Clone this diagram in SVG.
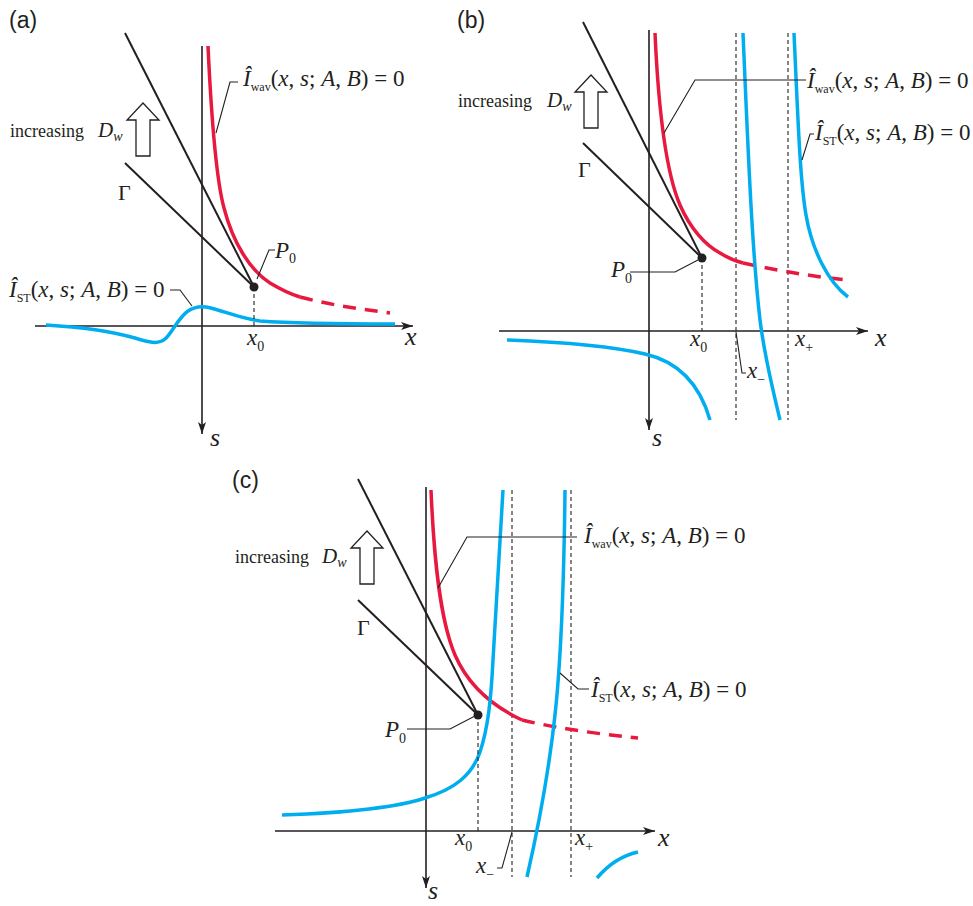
<svg xmlns="http://www.w3.org/2000/svg" width="973" height="906" viewBox="0 0 973 906">
<style>
.ax{stroke:#231f20;stroke-width:1.6;fill:none}
.ln{stroke:#231f20;stroke-width:2;fill:none}
.ld{stroke:#231f20;stroke-width:1.1;fill:none}
.dv{stroke:#231f20;stroke-width:1.1;fill:none;stroke-dasharray:4 3}
.red{stroke:#e8193f;stroke-width:3.5;fill:none}
.redd{stroke:#e8193f;stroke-width:3.5;fill:none;stroke-dasharray:13 9}
.blu{stroke:#00aeef;stroke-width:3.5;fill:none}
.hol{stroke:#231f20;stroke-width:1.3;fill:#fff}
text{font-family:"Liberation Serif","Times New Roman",serif;fill:#231f20}
.lab{font-size:23px}
.i{font-style:italic}
.sub{font-size:12px;font-style:normal}
.axl{font-size:26px;font-style:italic}
.pl{font-family:"Liberation Sans",Arial,sans-serif;font-size:23px}
.inc{font-size:18px}
.dw{font-size:21px;font-style:italic}
.gam{font-size:22px}
.vl{font-size:23px;font-style:italic}
.vs{font-size:14px;font-style:normal}
</style>
<defs>
<marker id="ah" viewBox="0 0 12 8" refX="12" refY="4" markerWidth="12" markerHeight="8" markerUnits="userSpaceOnUse" orient="auto">
<path d="M0,0 L12,4 L0,8 L3,4 Z" fill="#231f20"/>
</marker>
<path id="harrow" d="M0,0 L16,17 L7,17 L7,53 L-7,53 L-7,17 L-16,17 Z"/>
</defs>

<!-- Panel (a) -->
<g id="panel-a">
<text class="pl" x="9" y="28">(a)</text>
<g id="a-axes">
<path class="ax" d="M35,326 L413,326" marker-end="url(#ah)"/>
<path class="ax" d="M202,46 L202,434" marker-end="url(#ah)"/>
<text class="axl" x="405" y="345">x</text>
<text class="axl" x="210" y="446">s</text>
</g>
<g id="a-curves">
<path class="red" d="M208,46 C211,110 215,175 224,208 C233,243 250,270 270,283 C280,289 290,294 300,297"/>
<path class="redd" d="M300,297 C330,305 360,309 390,313"/>
<path class="blu" d="M46,325 C80,327 110,331 135,338 C148,342 158,345 165,339 C172,333 178,318 188,311 C194,307 200,306 206,307 C222,310 238,318 260,321 C300,324 350,324 395,324"/>
<path class="ln" d="M125,33 L254,287"/>
<path class="ln" d="M125,163 L254,287"/>
<path class="dv" d="M254,287 L254,326"/>
<circle cx="254" cy="287" r="4.5" fill="#231f20"/>
</g>
<g id="a-labels">
<use href="#harrow" class="hol" x="143" y="103"/>
<text class="inc" x="10" y="137">increasing</text>
<text class="dw" x="98" y="137">D<tspan font-size="14" dy="4">w</tspan></text>
<text class="gam" x="118" y="200">Γ</text>
<path class="ld" d="M216,133 L230,82 L238,82"/>
<text class="lab" x="243" y="86"><tspan class="i">Î</tspan><tspan class="sub" dy="5">wav</tspan><tspan dy="-5">(</tspan><tspan class="i">x</tspan>, <tspan class="i">s</tspan>; <tspan class="i">A</tspan>, <tspan class="i">B</tspan>) = 0</text>
<path class="ld" d="M170,290 L180,290 L192,306"/>
<text class="lab" x="9" y="297"><tspan class="i">Î</tspan><tspan class="sub" font-size="11" dy="5">ST</tspan><tspan dy="-5">(</tspan><tspan class="i">x</tspan>, <tspan class="i">s</tspan>; <tspan class="i">A</tspan>, <tspan class="i">B</tspan>) = 0</text>
<path class="ld" d="M257,279 L269,250 L275,250"/>
<text class="vl" x="275" y="258">P<tspan class="vs" dy="5">0</tspan></text>
<text class="vl" x="247" y="345">x<tspan class="vs" dy="6">0</tspan></text>
</g>
</g>

<!-- Panel (b) -->
<g id="panel-b">
<text class="pl" x="457" y="28">(b)</text>
<g id="b-axes">
<path class="ax" d="M499,331 L868,331" marker-end="url(#ah)"/>
<path class="ax" d="M649,30 L649,430" marker-end="url(#ah)"/>
<text class="axl" x="875" y="346">x</text>
<text class="axl" x="652" y="446">s</text>
</g>
<g id="b-curves">
<path class="dv" d="M736,33 L736,420"/>
<path class="dv" d="M788,33 L788,420"/>
<path class="red" d="M655,33 C658,100 665,170 680,205 C690,228 705,245 720,253 C728,258 735,261 743,263"/>
<path class="redd" d="M743,263 C780,271 815,277 848,280"/>
<path class="blu" d="M743,33 C748,150 752,250 760,320 C765,360 773,390 780,420"/>
<path class="blu" d="M794,33 C798,120 800,180 806,215 C812,250 828,282 848,297"/>
<path class="blu" d="M507,340 C560,342 610,346 645,354 C680,362 700,385 710,420"/>
<path class="ln" d="M583,22 L702,258"/>
<path class="ln" d="M583,143 L702,258"/>
<path class="dv" d="M702,258 L702,331"/>
<circle cx="702" cy="258" r="4.5" fill="#231f20"/>
</g>
<g id="b-labels">
<use href="#harrow" class="hol" x="591" y="75"/>
<text class="inc" x="458" y="107">increasing</text>
<text class="dw" x="547" y="107">D<tspan font-size="14" dy="4">w</tspan></text>
<text class="gam" x="578" y="177">Γ</text>
<path class="ld" d="M664,133 L695,80 L806,80"/>
<text class="lab" x="807" y="88"><tspan class="i">Î</tspan><tspan class="sub" dy="5">wav</tspan><tspan dy="-5">(</tspan><tspan class="i">x</tspan>, <tspan class="i">s</tspan>; <tspan class="i">A</tspan>, <tspan class="i">B</tspan>) = 0</text>
<path class="ld" d="M802,160 L810,134 L814,134"/>
<text class="lab" x="815" y="140"><tspan class="i">Î</tspan><tspan class="sub" font-size="11" dy="5">ST</tspan><tspan dy="-5">(</tspan><tspan class="i">x</tspan>, <tspan class="i">s</tspan>; <tspan class="i">A</tspan>, <tspan class="i">B</tspan>) = 0</text>
<path class="ld" d="M630,272 L675,272 L698,260"/>
<text class="vl" x="611" y="277">P<tspan class="vs" font-style="italic" dy="6">0</tspan></text>
<text class="vl" x="690" y="346">x<tspan class="vs" dy="6">0</tspan></text>
<text class="vl" x="795" y="346">x<tspan class="vs" dy="6">+</tspan></text>
<path class="ld" d="M736,332 L742,373 L746,373"/>
<text class="vl" x="747" y="378">x<tspan class="vs" dy="6">−</tspan></text>
</g>
</g>

<!-- Panel (c) -->
<g id="panel-c">
<text class="pl" x="232" y="488">(c)</text>
<g id="c-axes">
<path class="ax" d="M275,831 L655,831" marker-end="url(#ah)"/>
<path class="ax" d="M426,487 L426,888" marker-end="url(#ah)"/>
<text class="axl" x="658" y="846">x</text>
<text class="axl" x="428" y="899">s</text>
</g>
<g id="c-curves">
<path class="dv" d="M512,490 L512,877"/>
<path class="dv" d="M571,490 L571,877"/>
<path class="red" d="M431,490 C434,560 440,620 455,655 C468,685 490,705 522,720"/>
<path class="redd" d="M522,720 C560,729 600,734 638,738"/>
<path class="blu" d="M282,815 C340,813 395,808 425,798 C455,789 472,775 480,752 C488,728 491,700 493,660 C496,600 500,540 503,490"/>
<path class="blu" d="M565,490 C564,580 561,660 555,715 C549,770 540,820 527,877"/>
<path class="blu" d="M597,878 C608,865 620,856 638,852"/>
<path class="ln" d="M358,479 L478,715"/>
<path class="ln" d="M358,600 L478,715"/>
<path class="dv" d="M478,715 L478,831"/>
<circle cx="478" cy="715" r="4.5" fill="#231f20"/>
</g>
<g id="c-labels">
<use href="#harrow" class="hol" x="367" y="531"/>
<text class="inc" x="235" y="563">increasing</text>
<text class="dw" x="322" y="563">D<tspan font-size="14" dy="4">w</tspan></text>
<text class="gam" x="357" y="635">Γ</text>
<path class="ld" d="M438,588 L467,537 L577,537"/>
<text class="lab" x="584" y="543"><tspan class="i">Î</tspan><tspan class="sub" dy="5">wav</tspan><tspan dy="-5">(</tspan><tspan class="i">x</tspan>, <tspan class="i">s</tspan>; <tspan class="i">A</tspan>, <tspan class="i">B</tspan>) = 0</text>
<path class="ld" d="M560,673 L578,689 L589,689"/>
<text class="lab" x="591" y="697"><tspan class="i">Î</tspan><tspan class="sub" font-size="11" dy="5">ST</tspan><tspan dy="-5">(</tspan><tspan class="i">x</tspan>, <tspan class="i">s</tspan>; <tspan class="i">A</tspan>, <tspan class="i">B</tspan>) = 0</text>
<path class="ld" d="M407,729 L450,729 L475,716"/>
<text class="vl" x="385" y="737">P<tspan class="vs" dy="6">0</tspan></text>
<text class="vl" x="455" y="845">x<tspan class="vs" dy="6">0</tspan></text>
<text class="vl" x="575" y="845">x<tspan class="vs" dy="6">+</tspan></text>
<path class="ld" d="M512,832 L502,868 L497,868"/>
<text class="vl" x="476" y="873">x<tspan class="vs" dy="6">−</tspan></text>
</g>
</g>
</svg>
